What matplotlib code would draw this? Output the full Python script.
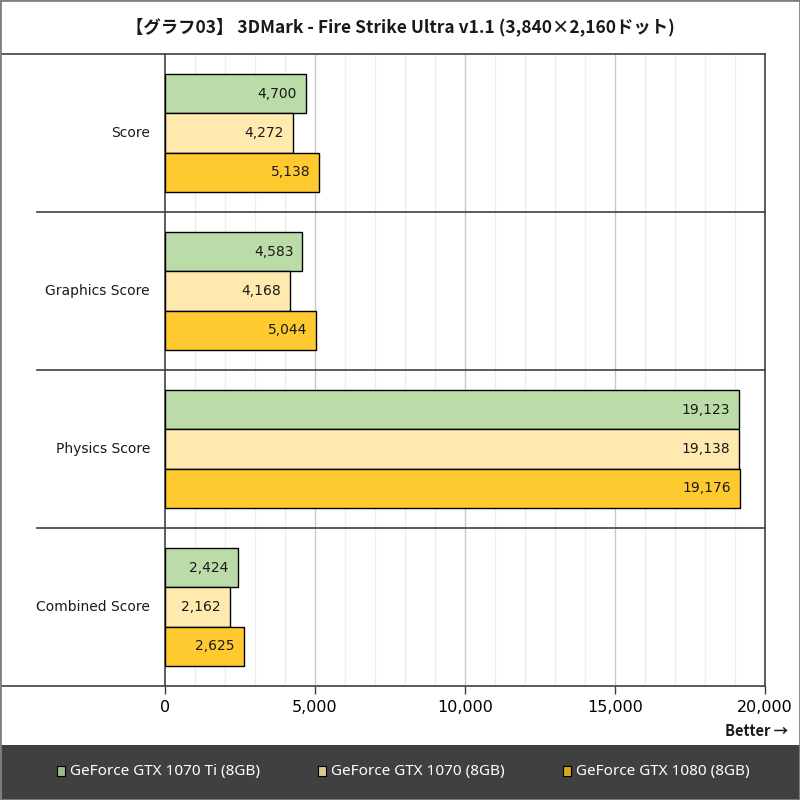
import matplotlib
matplotlib.use("Agg")
import matplotlib.pyplot as plt
import matplotlib.transforms as mtransforms
from matplotlib.patches import Rectangle
import numpy as np

categories = ["Score", "Graphics Score", "Physics Score", "Combined Score"]
series = ["GeForce GTX 1070 Ti (8GB)", "GeForce GTX 1070 (8GB)", "GeForce GTX 1080 (8GB)"]
gtx1070ti = [4700, 4583, 19123, 2424]
gtx1070 = [4272, 4168, 19138, 2162]
gtx1080 = [5138, 5044, 19176, 2625]
values = [gtx1070ti, gtx1070, gtx1080]
xticks = [0, 5000, 10000, 15000, 20000]

bar_colors = ["#BBDBA8", "#FFE9AF", "#FFCA30"]
legend_colors = ["#9BBB88", "#DCCA90", "#DDA815"]
title = "【グラフ03】 3DMark - Fire Strike Ultra v1.1 (3,840×2,160ドット)"

fig = plt.figure(figsize=(8, 8), dpi=100)
fig.patch.set_facecolor("white")

W, H = 800, 800
left, right, top, bottom = 165, 765, 54, 686
ax = fig.add_axes([left / W, 1 - bottom / H, (right - left) / W, (bottom - top) / H])

y = np.arange(len(categories))
h = 0.25
for i, (vals, col) in enumerate(zip(values, bar_colors)):
    pos = y + (i - 1) * h
    ax.barh(pos, vals, height=h, color=col, edgecolor="black", linewidth=1.0, zorder=3)
    for p, v in zip(pos, vals):
        ax.text(v - 300, p, f"{v:,}", ha="right", va="center", fontsize=10,
                color="#1a1a1a", family="DejaVu Sans", zorder=4)

ax.set_xlim(0, 20000)
ax.set_ylim(len(categories) - 0.5, -0.5)

# gridlines
for xv in range(1000, 20000, 1000):
    c = "#C8C8C8" if xv % 5000 == 0 else "#EDEDED"
    ax.axvline(xv, color=c, linewidth=1.0, zorder=1)

ax.set_xticks(xticks)
ax.set_xticklabels([f"{t:,}" for t in xticks], fontsize=11.5, family="DejaVu Sans")
ax.tick_params(axis="x", length=6, width=1, color="#404040", pad=4)
ax.set_yticks([])

for s in ["top", "bottom"]:
    ax.spines[s].set_visible(False)
for s in ["left", "right"]:
    ax.spines[s].set_color("#404040")
    ax.spines[s].set_linewidth(1.2)

# horizontal separators extending to the left
trans = mtransforms.blended_transform_factory(ax.transAxes, ax.transData)
for yy in [0.5, 1.5, 2.5]:
    ax.plot([(37 - left) / (right - left), 1], [yy, yy], transform=trans,
            color="#404040", linewidth=1.2, clip_on=False, zorder=5)
for yy in [-0.5, len(categories) - 0.5]:
    ax.plot([-left / (right - left), 1], [yy, yy], transform=trans,
            color="#404040", linewidth=1.2, clip_on=False, zorder=5)

# category labels
for yy, cat in zip(y, categories):
    ax.text((150 - left) / (right - left), yy, cat, transform=trans, ha="right",
            va="center", fontsize=10, family="DejaVu Sans", color="#1a1a1a")

fig.text(0.5, 1 - 27 / H, title, ha="center", va="center", fontsize=12.5,
         fontweight="bold", family=["Noto Sans CJK JP", "DejaVu Sans"], color="#1a1a1a")

fig.text(788 / W, 1 - 731 / H, "Better →", ha="right", va="center", fontsize=10.5,
         fontweight="bold", family=["Noto Sans CJK JP", "DejaVu Sans"], color="#1a1a1a")

# legend band
fig.patches.append(Rectangle((0, 0), 1, 55 / H, transform=fig.transFigure,
                             facecolor="#404040", edgecolor="none", zorder=0))
leg_x = [57, 318, 563]
for x0, name, col in zip(leg_x, series, legend_colors):
    fig.patches.append(Rectangle((x0 / W, (800 - 776) / H), 8 / W, 10 / H,
                                 transform=fig.transFigure, facecolor=col,
                                 edgecolor="black", linewidth=0.8, zorder=2))
    fig.text((x0 + 13) / W, 1 - 771 / H, name, ha="left", va="center", fontsize=11,
             family=["Noto Sans", "DejaVu Sans"], color="white")

# outer border
fig.patches.append(Rectangle((0, 0), 1, 1, transform=fig.transFigure, facecolor="none",
                             edgecolor="#808080", linewidth=2, zorder=10))

fig.savefig("out.png", dpi=100)
